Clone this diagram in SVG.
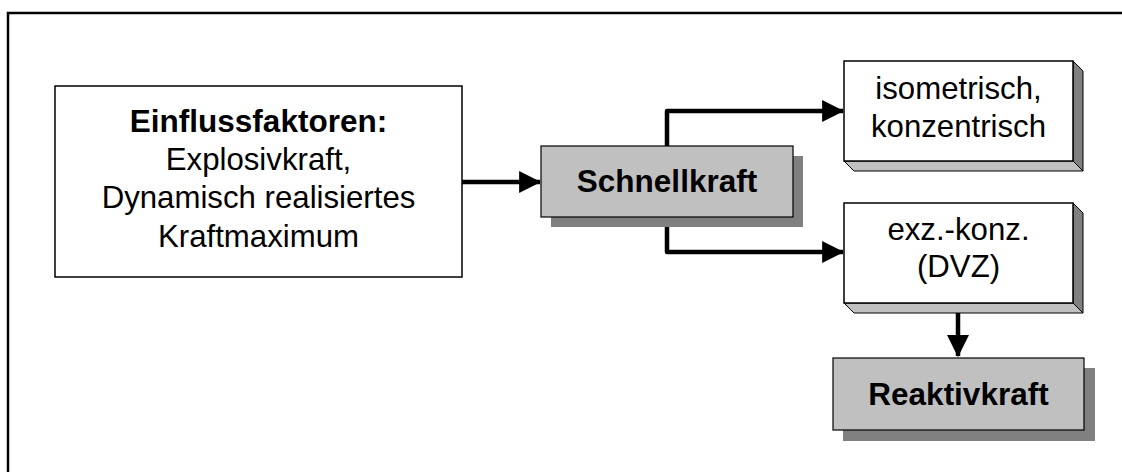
<svg xmlns="http://www.w3.org/2000/svg" width="1122" height="472" viewBox="0 0 1122 472">
  <style>
    .frame { fill: none; stroke: #000; stroke-width: 2.5; }
    .box { fill: #fff; stroke: #000; stroke-width: 1.5; }
    .grey { fill: #c0c0c0; stroke: #000; stroke-width: 1.2; }
    .shadow { fill: #808080; }
    .side { fill: #808080; stroke: #000; stroke-width: 1; stroke-linejoin: round; }
    .bottom { fill: #c0c0c0; stroke: #000; stroke-width: 1; stroke-linejoin: round; }
    .conn { fill: none; stroke: #000; stroke-width: 4.5; stroke-linejoin: round; }
    text { font-family: "Liberation Sans", Arial, sans-serif; font-size: 31.2px; fill: #000; text-anchor: middle; }
    .b { font-weight: bold; font-size: 31.5px; }
  </style>
  <defs>
    <marker id="arrow" markerUnits="userSpaceOnUse" markerWidth="22" markerHeight="22" viewBox="0 0 20 20" refX="19" refY="10" orient="auto">
      <path d="M0,0 L20,10 L0,20 Z" fill="#000"/>
    </marker>
  </defs>

  <!-- frame lines (top and left) -->
  <path class="frame" d="M8,472 L8,13 L1122,13"/>

  <!-- connectors -->
  <g id="connectors">
    <path class="conn" d="M462,182 L540,182" marker-end="url(#arrow)"/>
    <path class="conn" d="M667,146 L667,111 L843,111" marker-end="url(#arrow)"/>
    <path class="conn" d="M667,217 L667,252 L843,252" marker-end="url(#arrow)"/>
    <path class="conn" d="M958,313 L958,356" marker-end="url(#arrow)"/>
  </g>

  <!-- factors box -->
  <g id="einflussfaktoren">
    <rect class="box" x="55" y="86" width="407" height="191"/>
    <text class="b" x="258.5" y="132">Einflussfaktoren:</text>
    <text x="258.5" y="170">Explosivkraft,</text>
    <text x="258.5" y="208">Dynamisch realisiertes</text>
    <text x="258.5" y="247">Kraftmaximum</text>
  </g>

  <!-- Schnellkraft -->
  <g id="schnellkraft">
    <rect class="shadow" x="551" y="156" width="252" height="71"/>
    <rect class="grey" x="541" y="146" width="252" height="71"/>
    <text class="b" x="667" y="192">Schnellkraft</text>
  </g>

  <!-- isometric / concentric -->
  <g id="isometrisch">
    <polygon class="side" points="1073,61 1083,71 1083,171 1073,161"/>
    <polygon class="bottom" points="844,161 1073,161 1083,171 854,171"/>
    <rect class="box" x="844" y="61" width="229" height="100"/>
    <text x="958.5" y="99">isometrisch,</text>
    <text x="958.5" y="137">konzentrisch</text>
  </g>

  <!-- eccentric-concentric -->
  <g id="exzentrisch">
    <polygon class="side" points="1073,203 1083,213 1083,313 1073,303"/>
    <polygon class="bottom" points="844,303 1073,303 1083,313 854,313"/>
    <rect class="box" x="844" y="203" width="229" height="100"/>
    <text x="958.5" y="240">exz.-konz.</text>
    <text x="958.5" y="277">(DVZ)</text>
  </g>

  <!-- Reaktivkraft -->
  <g id="reaktivkraft">
    <rect class="shadow" x="843" y="368" width="252" height="73"/>
    <rect class="grey" x="833" y="358" width="251" height="72"/>
    <text class="b" x="958.5" y="405">Reaktivkraft</text>
  </g>
</svg>
